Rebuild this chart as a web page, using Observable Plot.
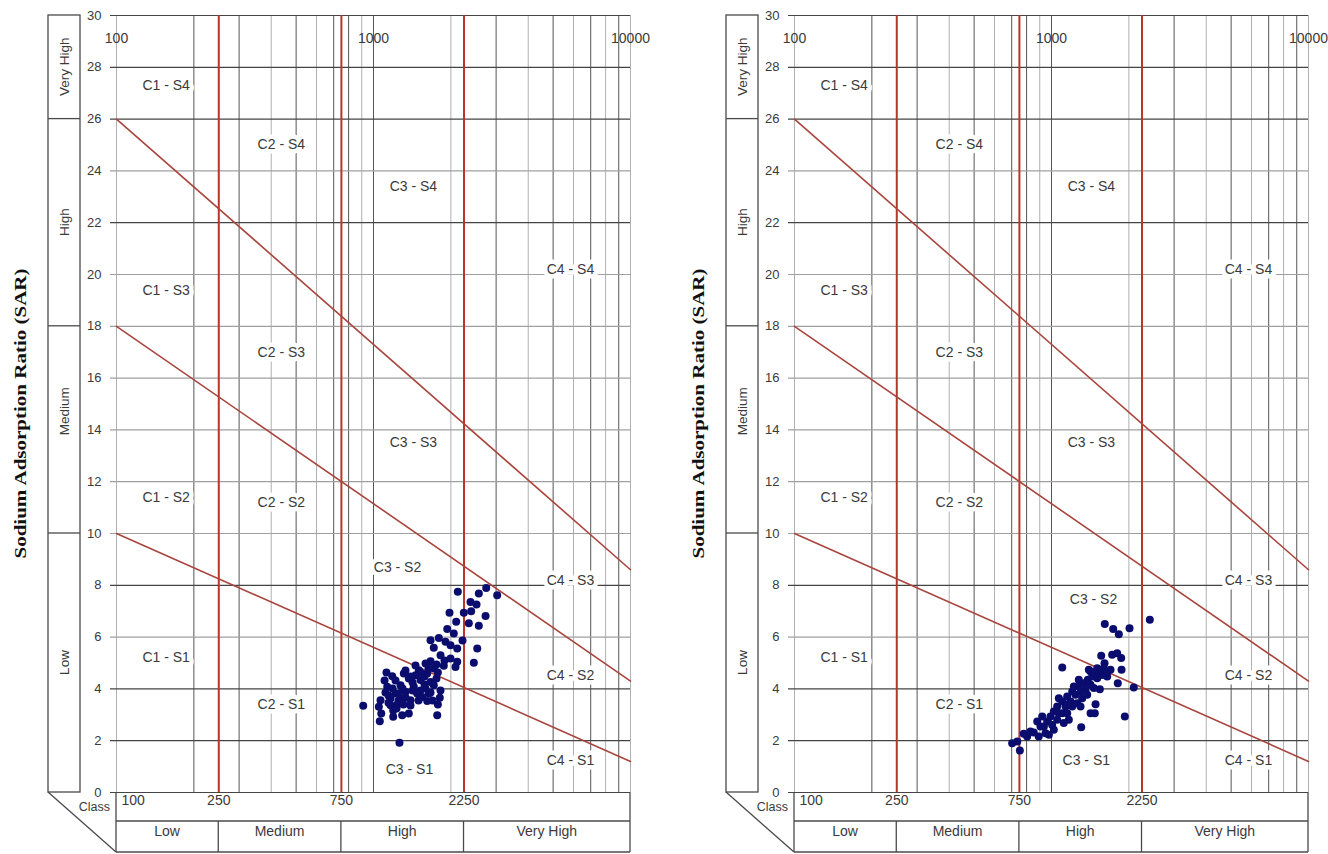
<!DOCTYPE html>
<html><head><meta charset="utf-8">
<script src="https://cdn.jsdelivr.net/npm/d3@7"></script>
<script src="https://cdn.jsdelivr.net/npm/@observablehq/plot@0.6"></script>
<style>
body{margin:0;background:#fff;font-family:"Liberation Sans",Arial,sans-serif;}
#wrap{display:flex;gap:28px;width:1328px;height:854px;overflow:hidden;}
</style></head><body><div id="wrap"></div>
<script>
// ---- class boundaries & ticks ----
const salinityBreaks = [100, 250, 750, 2250, 10000];
const salinityClasses = ["Low", "Medium", "High", "Very High"];
const sodiumBreaks = [0, 10, 18, 26, 30];
const sodiumClasses = ["Low", "Medium", "High", "Very High"];
const sodiumClassLabelSAR = [5, 14.7, 22, 28];
const topTicks = [100, 1000, 10000];
const bottomTicks = [100, 250, 750, 2250];
const sarTicks = [0, 2, 4, 6, 8, 10, 12, 14, 16, 18, 20, 22, 24, 26, 28, 30];
const darkGridEC = [200, 300, 500, 700, 800, 1000, 3000, 5000, 7000, 9000];
const lightGridEC = [100, 400, 600, 900, 2000, 4000, 6000, 8000, 10000];
const darkGridSAR = [0, 2, 4, 8, 22, 26, 28, 30];
const lightGridSAR = [6, 10, 12, 14, 16, 18, 20, 24];
// sodium hazard divider lines: SAR at EC = 100 and EC = 10000
const dividerEC = [100, 10000];
const dividerS1S2 = [10, 1.2];
const dividerS2S3 = [18, 4.3];
const dividerS3S4 = [26, 8.6];

// ---- zone labels ----
const zoneNames = ["C1 - S4","C2 - S4","C3 - S4","C4 - S4","C1 - S3","C2 - S3","C3 - S3","C4 - S3",
                   "C1 - S2","C2 - S2","C3 - S2","C4 - S2","C1 - S1","C2 - S1","C3 - S1","C4 - S1"];
const zoneECLeft  = [156, 438, 1430, 5840, 156, 438, 1430, 5840, 156, 438, 1240, 5840, 156, 438, 1380, 5840];
const zoneSARLeft = [27.3, 25.0, 23.4, 20.2, 19.4, 17.0, 13.5, 8.2, 11.4, 11.2, 8.7, 4.5, 5.2, 3.4, 0.9, 1.24];
const zoneECRight  = [156, 438, 1430, 5840, 156, 438, 1430, 5840, 156, 438, 1457, 5840, 156, 438, 1366, 5840];
const zoneSARRight = [27.3, 25.0, 23.4, 20.2, 19.4, 17.0, 13.5, 8.2, 11.4, 11.2, 7.45, 4.5, 5.2, 3.4, 1.24, 1.24];

// ---- samples: left panel ----
const ecLeft = [2128,2569,2745,3029,2385,2517,2399,2246,1976,2729,2098,2349,2569,1936,2053,1667,1796,1906,1994,2117,
  1716,2533,1823,1994,2117,2457,1667,1594,2085,1877,1716,1780,1501,1618,1457,1312,1183,1372,1524,1667,
  1131,1274,1435,1594,1716,1218,1332,1479,1641,1165,1274,1393,1547,1065,912,1049,1165,1237,1618,1811,
  1780,1072,1193,1293,1372,1058,1770,1262,1218,1332,1419,1113,1252,1524,1393,1193,1144,1457,1758,1889,
  1579,1297,1697,2220,1104,1186,1252,1332,1419,1497,1579,1667,1144,1229,1308,1393,1524,1637,1759,1823,1123];
const sarLeft = [7.75,7.68,7.90,7.62,7.36,7.26,7.00,6.94,6.94,6.81,6.59,6.53,6.44,6.31,6.14,5.88,5.97,5.82,5.69,5.56,
  5.59,5.56,5.30,5.17,5.05,5.01,5.07,4.98,4.85,4.89,4.79,4.63,4.72,4.59,4.53,4.59,4.49,4.40,4.34,4.27,
  4.08,4.14,4.08,4.02,4.14,3.82,3.89,3.82,3.82,3.63,3.63,3.56,3.69,3.56,3.35,3.31,3.37,3.40,3.53,3.66,
  3.40,3.05,2.92,2.98,3.05,2.75,2.98,1.92,4.32,4.71,4.25,3.86,3.55,3.94,3.36,3.17,3.75,4.90,4.40,5.10,
  4.48,4.02,3.55,5.87,4.32,4.02,3.82,3.67,3.94,3.55,4.17,3.86,3.47,3.24,3.40,4.48,4.63,4.79,4.94,3.94,4.63];

// ---- samples: right panel ----
const ecRight = [2413,1612,1738,1828,2012,1561,1722,1801,1867,1101,1608,1873,1647,1419,1811,2090,1542,1484,1419,1929,
  1305,1474,703,736,753,780,853,892,948,880,920,962,991,1021,1052,1068,1101,1134,1151,1186,
  1204,1240,1277,1297,1336,1356,1384,1419,1440,1474,1506,1542,1575,1598,1647,934,1006,1052,1101,1151,
  1204,1259,1317,1377,1461,1168,1116,828,1277,1221,1397,1506,1068,977,1021,906,804,1151,1297,1697];
const sarRight = [6.67,6.51,6.31,6.11,6.34,5.28,5.32,5.38,5.19,4.83,4.99,4.74,4.67,4.67,4.22,4.05,3.99,3.41,3.06,2.93,
  2.52,3.06,1.90,1.97,1.62,2.27,2.32,2.16,2.29,2.74,2.93,2.74,2.93,3.13,3.32,3.64,3.51,3.32,3.71,3.51,
  3.90,3.77,4.09,3.90,4.22,3.96,4.35,4.16,4.48,4.61,4.41,4.67,4.54,4.80,4.48,2.55,2.61,2.81,3.06,3.06,
  3.32,3.45,3.64,3.77,4.03,2.81,2.68,2.36,4.35,4.09,4.74,4.80,3.06,2.23,2.42,2.55,2.16,3.39,3.32,4.74];

const dividers = [
  ["S1/S2", dividerS1S2], ["S2/S3", dividerS2S3], ["S3/S4", dividerS3S4]
].flatMap(([k, s]) => dividerEC.map((ec, i) => ({k, ec, sar: s[i]})));

const FONT = '"Liberation Sans", Arial, sans-serif';
const INK = "#3a3a3a";
const BOX = "#4a4a4a";

// custom mark: class boxes, perspective diagonal, axis title
function classFrame(index, scales, values, dims) {
  const {x, y} = scales;
  const L = dims.marginLeft, R = dims.width - dims.marginRight;
  const T = dims.marginTop, B = dims.height - dims.marginBottom;
  const g = d3.create("svg:g");
  const lines = g.append("g").attr("stroke", BOX).attr("stroke-width", 1.3).attr("fill", "none");
  const bx0 = L - 68, bx1 = L - 36;
  lines.append("rect").attr("x", bx0).attr("y", y(sodiumBreaks[4])).attr("width", bx1 - bx0)
    .attr("height", y(sodiumBreaks[0]) - y(sodiumBreaks[4]));
  for (const b of sodiumBreaks.slice(1, -1)) {
    lines.append("line").attr("x1", bx0).attr("x2", bx1).attr("y1", y(b)).attr("y2", y(b));
  }
  // perspective diagonal
  lines.append("line").attr("x1", bx0).attr("y1", y(0)).attr("x2", L).attr("y2", B + 60);
  // bottom class box
  const r1 = B + 29, r2 = B + 60;
  lines.append("line").attr("x1", L).attr("x2", R).attr("y1", r1).attr("y2", r1);
  lines.append("line").attr("x1", L).attr("x2", R).attr("y1", r2).attr("y2", r2);
  lines.append("line").attr("x1", L).attr("x2", L).attr("y1", B).attr("y2", r2);
  lines.append("line").attr("x1", R).attr("x2", R).attr("y1", B).attr("y2", r2);
  for (const b of salinityBreaks.slice(1, -1)) {
    lines.append("line").attr("x1", x(b)).attr("x2", x(b)).attr("y1", r1).attr("y2", r2);
  }
  const txt = g.append("g").attr("fill", INK).attr("font-family", FONT).attr("stroke", "none");
  sodiumClasses.forEach((c, i) => {
    txt.append("text").attr("transform", `translate(${(bx0 + bx1) / 2 + 1},${y(sodiumClassLabelSAR[i])}) rotate(-90)`)
      .attr("text-anchor", "middle").attr("dominant-baseline", "middle").attr("font-size", 13.5).text(c);
  });
  salinityClasses.forEach((c, i) => {
    const cx = (x(salinityBreaks[i]) + x(salinityBreaks[i + 1])) / 2;
    txt.append("text").attr("x", cx).attr("y", B + 40).attr("text-anchor", "middle")
      .attr("dominant-baseline", "middle").attr("font-size", 14).text(c);
  });
  txt.append("text").attr("x", L - 6).attr("y", B + 16).attr("text-anchor", "end")
    .attr("dominant-baseline", "middle").attr("font-size", 12.5).text("Class");
  g.append("text").attr("transform", `translate(${L - 94},${(T + B) / 2 + 10}) rotate(-90)`)
    .attr("text-anchor", "middle").attr("dominant-baseline", "middle")
    .attr("font-family", '"Liberation Serif","Times New Roman",serif').attr("font-weight", "bold")
    .attr("font-size", 17).attr("textLength", 290).attr("lengthAdjust", "spacingAndGlyphs")
    .attr("fill", "#111").text("Sodium Adsorption Ratio (SAR)");
  return g.node();
}

function panel(ecs, sars, zoneEC, zoneSAR) {
  const samples = ecs.map((ec, i) => ({ec, sar: sars[i]}));
  const zones = zoneNames.map((name, i) => ({name, ec: zoneEC[i], sar: zoneSAR[i]}));
  return Plot.plot({
    width: 650, height: 854,
    marginLeft: 116, marginRight: 20, marginTop: 15, marginBottom: 62,
    x: {type: "log", domain: [salinityBreaks[0], salinityBreaks[4]], axis: null},
    y: {domain: [sodiumBreaks[0], sodiumBreaks[4]], axis: null},
    style: {fontFamily: FONT, background: "white", overflow: "visible"},
    marks: [
      Plot.ruleX(lightGridEC, {stroke: "#b0b0b0", strokeWidth: 1}),
      Plot.ruleX(darkGridEC, {stroke: "#555", strokeWidth: 1}),
      Plot.ruleY(lightGridSAR, {stroke: "#a0a0a0", strokeWidth: 1.2, insetLeft: -6}),
      Plot.ruleY(darkGridSAR, {stroke: "#444", strokeWidth: 1.2, insetLeft: -6}),
      Plot.ruleX(salinityBreaks.slice(1, -1), {stroke: "#b8352c", strokeWidth: 2}),
      Plot.line(dividers, {x: "ec", y: "sar", z: "k", stroke: "#a9453d", strokeWidth: 1.6}),
      Plot.text(zones, {x: "ec", y: "sar", text: "name", fill: INK, stroke: "white", strokeWidth: 9,
        fontSize: 14, fontFamily: FONT}),
      Plot.dot(samples, {x: "ec", y: "sar", r: 4, fill: "#0b0d6e", stroke: "none"}),
      Plot.text(sarTicks, {y: d => d, frameAnchor: "left", dx: -15, textAnchor: "end", fontSize: 13, fill: INK}),
      Plot.text(topTicks, {x: d => d, text: d => String(d), frameAnchor: "top", dy: 18, fontSize: 14, fill: INK}),
      Plot.text(bottomTicks.slice(0, 1), {x: d => d, text: d => String(d), frameAnchor: "bottom", dy: 12,
        textAnchor: "start", dx: 5, fontSize: 14, fill: INK}),
      Plot.text(bottomTicks.slice(1), {x: d => d, text: d => String(d), frameAnchor: "bottom", dy: 12,
        fontSize: 14, fill: INK}),
      classFrame
    ]
  });
}

const wrap = document.getElementById("wrap");
wrap.append(panel(ecLeft, sarLeft, zoneECLeft, zoneSARLeft));
wrap.append(panel(ecRight, sarRight, zoneECRight, zoneSARRight));
</script></body></html>
